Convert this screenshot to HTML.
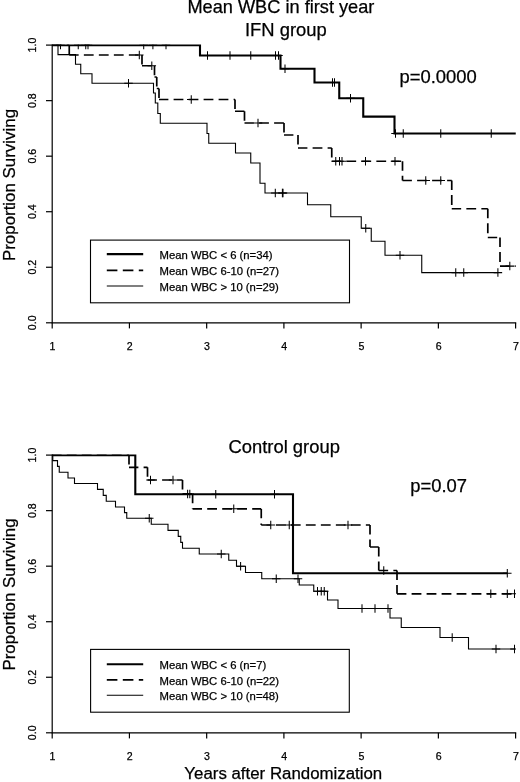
<!DOCTYPE html>
<html><head><meta charset="utf-8"><title>Survival by mean WBC</title>
<style>html,body{margin:0;padding:0;background:#fff;}body{width:520px;height:782px;overflow:hidden;font-family:"Liberation Sans", sans-serif;}</style>
</head><body>
<svg width="520" height="782" viewBox="0 0 520 782" style="display:block;filter:grayscale(1);font-family:'Liberation Sans', sans-serif" fill="#000">
<style>text{stroke:#000;stroke-width:0.25px;}</style>
<rect width="520" height="782" fill="#fff"/>
<text x="280.9" y="13.2" text-anchor="middle" font-size="18.2">Mean WBC in first year</text>
<text x="285.9" y="36.1" text-anchor="middle" font-size="18.4">IFN group</text>
<text x="284.2" y="452.8" text-anchor="middle" font-size="18.4">Control group</text>
<text transform="translate(14.6,185) rotate(-90)" text-anchor="middle" font-size="16.9">Proportion Surviving</text>
<text transform="translate(14.6,594.5) rotate(-90)" text-anchor="middle" font-size="16.9">Proportion Surviving</text>
<text x="283.3" y="779.4" text-anchor="middle" font-size="16.85">Years after Randomization</text>
<clipPath id="c0"><rect x="51.6" y="44.45" width="464.40000000000003" height="279.7"/></clipPath>
<path d="M52.2,44.5 V322.8 H516.2" fill="none" stroke="#000" stroke-width="1.2"/>
<line x1="46.0" y1="45.10" x2="52.2" y2="45.10" stroke="#000" stroke-width="1.2"/>
<text transform="translate(36.4,45.10) rotate(-90)" text-anchor="middle" font-size="10.6">1.0</text>
<line x1="46.0" y1="100.64" x2="52.2" y2="100.64" stroke="#000" stroke-width="1.2"/>
<text transform="translate(36.4,100.64) rotate(-90)" text-anchor="middle" font-size="10.6">0.8</text>
<line x1="46.0" y1="156.18" x2="52.2" y2="156.18" stroke="#000" stroke-width="1.2"/>
<text transform="translate(36.4,156.18) rotate(-90)" text-anchor="middle" font-size="10.6">0.6</text>
<line x1="46.0" y1="211.72" x2="52.2" y2="211.72" stroke="#000" stroke-width="1.2"/>
<text transform="translate(36.4,211.72) rotate(-90)" text-anchor="middle" font-size="10.6">0.4</text>
<line x1="46.0" y1="267.26" x2="52.2" y2="267.26" stroke="#000" stroke-width="1.2"/>
<text transform="translate(36.4,267.26) rotate(-90)" text-anchor="middle" font-size="10.6">0.2</text>
<line x1="46.0" y1="322.80" x2="52.2" y2="322.80" stroke="#000" stroke-width="1.2"/>
<text transform="translate(36.4,322.80) rotate(-90)" text-anchor="middle" font-size="10.6">0.0</text>
<line x1="52.20" y1="322.8" x2="52.20" y2="328.40000000000003" stroke="#000" stroke-width="1.2"/>
<text x="52.50" y="349.60" text-anchor="middle" font-size="10.6">1</text>
<line x1="129.43" y1="322.8" x2="129.43" y2="328.40000000000003" stroke="#000" stroke-width="1.2"/>
<text x="129.73" y="349.60" text-anchor="middle" font-size="10.6">2</text>
<line x1="206.67" y1="322.8" x2="206.67" y2="328.40000000000003" stroke="#000" stroke-width="1.2"/>
<text x="206.97" y="349.60" text-anchor="middle" font-size="10.6">3</text>
<line x1="283.90" y1="322.8" x2="283.90" y2="328.40000000000003" stroke="#000" stroke-width="1.2"/>
<text x="284.20" y="349.60" text-anchor="middle" font-size="10.6">4</text>
<line x1="361.13" y1="322.8" x2="361.13" y2="328.40000000000003" stroke="#000" stroke-width="1.2"/>
<text x="361.43" y="349.60" text-anchor="middle" font-size="10.6">5</text>
<line x1="438.37" y1="322.8" x2="438.37" y2="328.40000000000003" stroke="#000" stroke-width="1.2"/>
<text x="438.67" y="349.60" text-anchor="middle" font-size="10.6">6</text>
<line x1="515.60" y1="322.8" x2="515.60" y2="328.40000000000003" stroke="#000" stroke-width="1.2"/>
<text x="515.90" y="349.60" text-anchor="middle" font-size="10.6">7</text>
<g clip-path="url(#c0)">
<path d="M52.20,45.10 H58.00 V54.60 H75.50 V64.20 H80.75 V73.80 H92.00 V83.30 H153.50 V93.00 H155.30 V103.00 H157.80 V113.50 H160.30 V123.20 H207.00 V133.50 H208.75 V143.25 H235.50 V153.00 H250.75 V163.00 H260.00 V183.25 H265.00 V193.00 H307.50 V204.70 H330.75 V216.75 H361.25 V228.25 H371.25 V241.25 H385.00 V255.20 H421.75 V272.60 H498.00" fill="none" stroke="#000" stroke-width="1.1"/>
<path d="M128.50,79.05V87.55M124.25,83.30H132.75" fill="none" stroke="#000" stroke-width="1.05"/>
<path d="M275.30,188.75V197.25M271.05,193.00H279.55" fill="none" stroke="#000" stroke-width="1.05"/>
<path d="M282.40,188.75V197.25M278.15,193.00H286.65" fill="none" stroke="#000" stroke-width="1.05"/>
<path d="M283.00,188.75V197.25M278.75,193.00H287.25" fill="none" stroke="#000" stroke-width="1.05"/>
<path d="M365.75,224.00V232.50M361.50,228.25H370.00" fill="none" stroke="#000" stroke-width="1.05"/>
<path d="M400.00,250.95V259.45M395.75,255.20H404.25" fill="none" stroke="#000" stroke-width="1.05"/>
<path d="M455.75,268.35V276.85M451.50,272.60H460.00" fill="none" stroke="#000" stroke-width="1.05"/>
<path d="M463.75,268.35V276.85M459.50,272.60H468.00" fill="none" stroke="#000" stroke-width="1.05"/>
<path d="M497.90,268.35V276.85M493.65,272.60H502.15" fill="none" stroke="#000" stroke-width="1.05"/>
<line x1="52.20" y1="45.10" x2="69.25" y2="45.10" stroke="#000" stroke-width="1.7" stroke-dasharray="9.8 5.2" stroke-dashoffset="0.4"/>
<line x1="69.25" y1="45.10" x2="69.25" y2="55.00" stroke="#000" stroke-width="1.7" stroke-dasharray="9.8 5.2" stroke-dashoffset="0.4"/>
<line x1="69.25" y1="55.00" x2="142.00" y2="55.00" stroke="#000" stroke-width="1.7" stroke-dasharray="9.8 5.2" stroke-dashoffset="0.4"/>
<line x1="142.00" y1="55.00" x2="142.00" y2="65.75" stroke="#000" stroke-width="1.7" stroke-dasharray="9.8 5.2" stroke-dashoffset="0.4"/>
<line x1="142.00" y1="65.75" x2="154.50" y2="65.75" stroke="#000" stroke-width="1.7" stroke-dasharray="9.8 5.2" stroke-dashoffset="0.4"/>
<line x1="154.50" y1="65.75" x2="154.50" y2="77.00" stroke="#000" stroke-width="1.7" stroke-dasharray="9.8 5.2" stroke-dashoffset="0.4"/>
<line x1="154.50" y1="77.00" x2="156.75" y2="77.00" stroke="#000" stroke-width="1.7" stroke-dasharray="9.8 5.2" stroke-dashoffset="0.4"/>
<line x1="156.75" y1="77.00" x2="156.75" y2="88.50" stroke="#000" stroke-width="1.7" stroke-dasharray="9.8 5.2" stroke-dashoffset="0.4"/>
<line x1="156.75" y1="88.50" x2="159.00" y2="88.50" stroke="#000" stroke-width="1.7" stroke-dasharray="9.8 5.2" stroke-dashoffset="0.4"/>
<line x1="159.00" y1="88.50" x2="159.00" y2="99.50" stroke="#000" stroke-width="1.7" stroke-dasharray="9.8 5.2" stroke-dashoffset="0.4"/>
<line x1="159.00" y1="99.50" x2="235.00" y2="99.50" stroke="#000" stroke-width="1.7" stroke-dasharray="9.8 5.2" stroke-dashoffset="0.4"/>
<line x1="235.00" y1="99.50" x2="235.00" y2="111.25" stroke="#000" stroke-width="1.7" stroke-dasharray="9.8 5.2" stroke-dashoffset="0.4"/>
<line x1="235.00" y1="111.25" x2="244.50" y2="111.25" stroke="#000" stroke-width="1.7" stroke-dasharray="9.8 5.2" stroke-dashoffset="0.4"/>
<line x1="244.50" y1="111.25" x2="244.50" y2="123.00" stroke="#000" stroke-width="1.7" stroke-dasharray="9.8 5.2" stroke-dashoffset="0.4"/>
<line x1="244.50" y1="123.00" x2="284.00" y2="123.00" stroke="#000" stroke-width="1.7" stroke-dasharray="9.8 5.2" stroke-dashoffset="0.4"/>
<line x1="284.00" y1="123.00" x2="284.00" y2="135.00" stroke="#000" stroke-width="1.7" stroke-dasharray="9.8 5.2" stroke-dashoffset="0.4"/>
<line x1="284.00" y1="135.00" x2="298.00" y2="135.00" stroke="#000" stroke-width="1.7" stroke-dasharray="9.8 5.2" stroke-dashoffset="0.4"/>
<line x1="298.00" y1="135.00" x2="298.00" y2="148.00" stroke="#000" stroke-width="1.7" stroke-dasharray="9.8 5.2" stroke-dashoffset="0.4"/>
<line x1="298.00" y1="148.00" x2="331.75" y2="148.00" stroke="#000" stroke-width="1.7" stroke-dasharray="9.8 5.2" stroke-dashoffset="0.4"/>
<line x1="331.75" y1="148.00" x2="331.75" y2="161.25" stroke="#000" stroke-width="1.7" stroke-dasharray="9.8 5.2" stroke-dashoffset="0.4"/>
<line x1="331.75" y1="161.25" x2="402.50" y2="161.25" stroke="#000" stroke-width="1.7" stroke-dasharray="9.8 5.2" stroke-dashoffset="0.4"/>
<line x1="402.50" y1="161.25" x2="402.50" y2="180.50" stroke="#000" stroke-width="1.7" stroke-dasharray="9.8 5.2" stroke-dashoffset="0.4"/>
<line x1="402.50" y1="180.50" x2="451.75" y2="180.50" stroke="#000" stroke-width="1.7" stroke-dasharray="9.8 5.2" stroke-dashoffset="0.4"/>
<line x1="451.75" y1="180.50" x2="451.75" y2="208.75" stroke="#000" stroke-width="1.7" stroke-dasharray="9.8 5.2" stroke-dashoffset="0.4"/>
<line x1="451.75" y1="208.75" x2="487.80" y2="208.75" stroke="#000" stroke-width="1.7" stroke-dasharray="9.8 5.2" stroke-dashoffset="0.4"/>
<line x1="487.80" y1="208.75" x2="487.80" y2="237.50" stroke="#000" stroke-width="1.7" stroke-dasharray="9.8 5.2" stroke-dashoffset="0.4"/>
<line x1="487.80" y1="237.50" x2="500.00" y2="237.50" stroke="#000" stroke-width="1.7" stroke-dasharray="9.8 5.2" stroke-dashoffset="0.4"/>
<line x1="500.00" y1="237.50" x2="500.00" y2="266.10" stroke="#000" stroke-width="1.7" stroke-dasharray="9.8 5.2" stroke-dashoffset="0.4"/>
<line x1="500.00" y1="266.10" x2="515.70" y2="266.10" stroke="#000" stroke-width="1.7" stroke-dasharray="9.8 5.2" stroke-dashoffset="0.4"/>
<path d="M139.30,50.75V59.25M135.05,55.00H143.55" fill="none" stroke="#000" stroke-width="1.05"/>
<path d="M151.80,61.50V70.00M147.55,65.75H156.05" fill="none" stroke="#000" stroke-width="1.05"/>
<path d="M191.25,95.25V103.75M187.00,99.50H195.50" fill="none" stroke="#000" stroke-width="1.05"/>
<path d="M258.00,118.75V127.25M253.75,123.00H262.25" fill="none" stroke="#000" stroke-width="1.05"/>
<path d="M335.75,157.00V165.50M331.50,161.25H340.00" fill="none" stroke="#000" stroke-width="1.05"/>
<path d="M339.50,157.00V165.50M335.25,161.25H343.75" fill="none" stroke="#000" stroke-width="1.05"/>
<path d="M342.00,157.00V165.50M337.75,161.25H346.25" fill="none" stroke="#000" stroke-width="1.05"/>
<path d="M365.50,157.00V165.50M361.25,161.25H369.75" fill="none" stroke="#000" stroke-width="1.05"/>
<path d="M395.00,157.00V165.50M390.75,161.25H399.25" fill="none" stroke="#000" stroke-width="1.05"/>
<path d="M425.75,176.25V184.75M421.50,180.50H430.00" fill="none" stroke="#000" stroke-width="1.05"/>
<path d="M440.75,176.25V184.75M436.50,180.50H445.00" fill="none" stroke="#000" stroke-width="1.05"/>
<path d="M509.80,261.85V270.35M505.55,266.10H514.05" fill="none" stroke="#000" stroke-width="1.05"/>
<path d="M52.20,45.10 H200.00 V55.50 H280.50 V68.75 H314.50 V82.50 H339.25 V98.25 H363.25 V116.60 H394.50 V133.50 H515.75" fill="none" stroke="#000" stroke-width="2.1"/>
<path d="M60.50,40.85V49.35M56.25,45.10H64.75" fill="none" stroke="#000" stroke-width="1.05"/>
<path d="M78.25,40.85V49.35M74.00,45.10H82.50" fill="none" stroke="#000" stroke-width="1.05"/>
<path d="M85.75,40.85V49.35M81.50,45.10H90.00" fill="none" stroke="#000" stroke-width="1.05"/>
<path d="M88.00,40.85V49.35M83.75,45.10H92.25" fill="none" stroke="#000" stroke-width="1.05"/>
<path d="M143.70,40.85V49.35M139.45,45.10H147.95" fill="none" stroke="#000" stroke-width="1.05"/>
<path d="M152.90,40.85V49.35M148.65,45.10H157.15" fill="none" stroke="#000" stroke-width="1.05"/>
<path d="M166.00,40.85V49.35M161.75,45.10H170.25" fill="none" stroke="#000" stroke-width="1.05"/>
<path d="M207.50,51.25V59.75M203.25,55.50H211.75" fill="none" stroke="#000" stroke-width="1.05"/>
<path d="M230.00,51.25V59.75M225.75,55.50H234.25" fill="none" stroke="#000" stroke-width="1.05"/>
<path d="M250.75,51.25V59.75M246.50,55.50H255.00" fill="none" stroke="#000" stroke-width="1.05"/>
<path d="M275.50,51.25V59.75M271.25,55.50H279.75" fill="none" stroke="#000" stroke-width="1.05"/>
<path d="M278.50,51.25V59.75M274.25,55.50H282.75" fill="none" stroke="#000" stroke-width="1.05"/>
<path d="M285.00,64.50V73.00M280.75,68.75H289.25" fill="none" stroke="#000" stroke-width="1.05"/>
<path d="M332.50,78.25V86.75M328.25,82.50H336.75" fill="none" stroke="#000" stroke-width="1.05"/>
<path d="M334.50,78.25V86.75M330.25,82.50H338.75" fill="none" stroke="#000" stroke-width="1.05"/>
<path d="M350.50,94.00V102.50M346.25,98.25H354.75" fill="none" stroke="#000" stroke-width="1.05"/>
<path d="M395.50,129.25V137.75M391.25,133.50H399.75" fill="none" stroke="#000" stroke-width="1.05"/>
<path d="M403.25,129.25V137.75M399.00,133.50H407.50" fill="none" stroke="#000" stroke-width="1.05"/>
<path d="M440.75,129.25V137.75M436.50,133.50H445.00" fill="none" stroke="#000" stroke-width="1.05"/>
<path d="M491.25,129.25V137.75M487.00,133.50H495.50" fill="none" stroke="#000" stroke-width="1.05"/>
</g>
<rect x="90.5" y="240.1" width="259.0" height="62.70000000000002" fill="#fff" stroke="#000" stroke-width="1.1"/>
<line x1="106.8" y1="254.1" x2="143.2" y2="254.1" stroke="#000" stroke-width="2.1"/>
<text x="159.5" y="258.80" font-size="11.3">Mean WBC &lt; 6 (n=34)</text>
<line x1="106.8" y1="270.3" x2="143.2" y2="270.3" stroke="#000" stroke-width="1.7" stroke-dasharray="10.6 5.4"/>
<text x="159.5" y="275.00" font-size="11.3">Mean WBC 6-10 (n=27)</text>
<line x1="106.8" y1="286.0" x2="143.2" y2="286.0" stroke="#000" stroke-width="1.1"/>
<text x="159.5" y="290.70" font-size="11.3">Mean WBC &gt; 10 (n=29)</text>
<text x="399.5" y="82.6" font-size="18.4">p=0.0000</text>
<clipPath id="c1"><rect x="51.6" y="454.45000000000005" width="464.40000000000003" height="279.69999999999993"/></clipPath>
<path d="M52.2,454.5 V732.8 H516.2" fill="none" stroke="#000" stroke-width="1.2"/>
<line x1="46.0" y1="455.10" x2="52.2" y2="455.10" stroke="#000" stroke-width="1.2"/>
<text transform="translate(36.4,455.10) rotate(-90)" text-anchor="middle" font-size="10.6">1.0</text>
<line x1="46.0" y1="510.64" x2="52.2" y2="510.64" stroke="#000" stroke-width="1.2"/>
<text transform="translate(36.4,510.64) rotate(-90)" text-anchor="middle" font-size="10.6">0.8</text>
<line x1="46.0" y1="566.18" x2="52.2" y2="566.18" stroke="#000" stroke-width="1.2"/>
<text transform="translate(36.4,566.18) rotate(-90)" text-anchor="middle" font-size="10.6">0.6</text>
<line x1="46.0" y1="621.72" x2="52.2" y2="621.72" stroke="#000" stroke-width="1.2"/>
<text transform="translate(36.4,621.72) rotate(-90)" text-anchor="middle" font-size="10.6">0.4</text>
<line x1="46.0" y1="677.26" x2="52.2" y2="677.26" stroke="#000" stroke-width="1.2"/>
<text transform="translate(36.4,677.26) rotate(-90)" text-anchor="middle" font-size="10.6">0.2</text>
<line x1="46.0" y1="732.80" x2="52.2" y2="732.80" stroke="#000" stroke-width="1.2"/>
<text transform="translate(36.4,732.80) rotate(-90)" text-anchor="middle" font-size="10.6">0.0</text>
<line x1="52.20" y1="732.8" x2="52.20" y2="738.4" stroke="#000" stroke-width="1.2"/>
<text x="52.50" y="759.60" text-anchor="middle" font-size="10.6">1</text>
<line x1="129.43" y1="732.8" x2="129.43" y2="738.4" stroke="#000" stroke-width="1.2"/>
<text x="129.73" y="759.60" text-anchor="middle" font-size="10.6">2</text>
<line x1="206.67" y1="732.8" x2="206.67" y2="738.4" stroke="#000" stroke-width="1.2"/>
<text x="206.97" y="759.60" text-anchor="middle" font-size="10.6">3</text>
<line x1="283.90" y1="732.8" x2="283.90" y2="738.4" stroke="#000" stroke-width="1.2"/>
<text x="284.20" y="759.60" text-anchor="middle" font-size="10.6">4</text>
<line x1="361.13" y1="732.8" x2="361.13" y2="738.4" stroke="#000" stroke-width="1.2"/>
<text x="361.43" y="759.60" text-anchor="middle" font-size="10.6">5</text>
<line x1="438.37" y1="732.8" x2="438.37" y2="738.4" stroke="#000" stroke-width="1.2"/>
<text x="438.67" y="759.60" text-anchor="middle" font-size="10.6">6</text>
<line x1="515.60" y1="732.8" x2="515.60" y2="738.4" stroke="#000" stroke-width="1.2"/>
<text x="515.90" y="759.60" text-anchor="middle" font-size="10.6">7</text>
<g clip-path="url(#c1)">
<path d="M52.20,455.10 H52.80 V460.60 H57.50 V466.40 H59.25 V472.20 H68.00 V478.00 H74.50 V483.50 H97.50 V489.40 H103.25 V495.40 H106.25 V501.20 H115.50 V507.00 H124.50 V512.60 H126.75 V518.20 H151.25 V524.20 H168.00 V530.40 H178.25 V536.40 H180.75 V542.40 H182.50 V548.20 H199.25 V554.00 H228.75 V560.30 H236.50 V566.30 H245.50 V572.50 H261.75 V578.75 H299.25 V585.00 H313.75 V591.25 H327.50 V600.00 H338.00 V608.50 H390.00 V618.00 H401.25 V627.50 H440.00 V637.50 H468.50 V649.00 H514.50" fill="none" stroke="#000" stroke-width="1.1"/>
<path d="M149.25,513.95V522.45M145.00,518.20H153.50" fill="none" stroke="#000" stroke-width="1.05"/>
<path d="M221.25,549.75V558.25M217.00,554.00H225.50" fill="none" stroke="#000" stroke-width="1.05"/>
<path d="M240.60,562.05V570.55M236.35,566.30H244.85" fill="none" stroke="#000" stroke-width="1.05"/>
<path d="M276.25,574.50V583.00M272.00,578.75H280.50" fill="none" stroke="#000" stroke-width="1.05"/>
<path d="M298.00,574.50V583.00M293.75,578.75H302.25" fill="none" stroke="#000" stroke-width="1.05"/>
<path d="M317.50,587.00V595.50M313.25,591.25H321.75" fill="none" stroke="#000" stroke-width="1.05"/>
<path d="M321.25,587.00V595.50M317.00,591.25H325.50" fill="none" stroke="#000" stroke-width="1.05"/>
<path d="M324.25,587.00V595.50M320.00,591.25H328.50" fill="none" stroke="#000" stroke-width="1.05"/>
<path d="M362.00,604.25V612.75M357.75,608.50H366.25" fill="none" stroke="#000" stroke-width="1.05"/>
<path d="M375.00,604.25V612.75M370.75,608.50H379.25" fill="none" stroke="#000" stroke-width="1.05"/>
<path d="M388.00,604.25V612.75M383.75,608.50H392.25" fill="none" stroke="#000" stroke-width="1.05"/>
<path d="M452.20,633.25V641.75M447.95,637.50H456.45" fill="none" stroke="#000" stroke-width="1.05"/>
<path d="M496.00,644.75V653.25M491.75,649.00H500.25" fill="none" stroke="#000" stroke-width="1.05"/>
<path d="M514.50,644.75V653.25M510.25,649.00H518.75" fill="none" stroke="#000" stroke-width="1.05"/>
<line x1="52.20" y1="455.10" x2="129.00" y2="455.10" stroke="#000" stroke-width="1.7" stroke-dasharray="9.8 5.2" stroke-dashoffset="0.4"/>
<line x1="129.00" y1="455.10" x2="129.00" y2="467.30" stroke="#000" stroke-width="1.7" stroke-dasharray="9.8 5.2" stroke-dashoffset="0.4"/>
<line x1="129.00" y1="467.30" x2="147.50" y2="467.30" stroke="#000" stroke-width="1.7" stroke-dasharray="9.8 5.2" stroke-dashoffset="0.4"/>
<line x1="147.50" y1="467.30" x2="147.50" y2="480.00" stroke="#000" stroke-width="1.7" stroke-dasharray="9.8 5.2" stroke-dashoffset="0.4"/>
<line x1="147.50" y1="480.00" x2="182.50" y2="480.00" stroke="#000" stroke-width="1.7" stroke-dasharray="9.8 5.2" stroke-dashoffset="0.4"/>
<line x1="182.50" y1="480.00" x2="182.50" y2="493.90" stroke="#000" stroke-width="1.7" stroke-dasharray="9.8 5.2" stroke-dashoffset="0.4"/>
<line x1="182.50" y1="493.90" x2="192.60" y2="493.90" stroke="#000" stroke-width="1.7" stroke-dasharray="9.8 5.2" stroke-dashoffset="0.4"/>
<line x1="192.60" y1="493.90" x2="192.60" y2="508.90" stroke="#000" stroke-width="1.7" stroke-dasharray="9.8 5.2" stroke-dashoffset="0.4"/>
<line x1="192.60" y1="508.90" x2="261.25" y2="508.90" stroke="#000" stroke-width="1.7" stroke-dasharray="9.8 5.2" stroke-dashoffset="0.4"/>
<line x1="261.25" y1="508.90" x2="261.25" y2="525.00" stroke="#000" stroke-width="1.7" stroke-dasharray="9.8 5.2" stroke-dashoffset="0.4"/>
<line x1="261.25" y1="525.00" x2="370.00" y2="525.00" stroke="#000" stroke-width="1.7" stroke-dasharray="9.8 5.2" stroke-dashoffset="0.4"/>
<line x1="370.00" y1="525.00" x2="370.00" y2="547.00" stroke="#000" stroke-width="1.7" stroke-dasharray="9.8 5.2" stroke-dashoffset="0.4"/>
<line x1="370.00" y1="547.00" x2="378.75" y2="547.00" stroke="#000" stroke-width="1.7" stroke-dasharray="9.8 5.2" stroke-dashoffset="0.4"/>
<line x1="378.75" y1="547.00" x2="378.75" y2="570.50" stroke="#000" stroke-width="1.7" stroke-dasharray="9.8 5.2" stroke-dashoffset="0.4"/>
<line x1="378.75" y1="570.50" x2="397.00" y2="570.50" stroke="#000" stroke-width="1.7" stroke-dasharray="9.8 5.2" stroke-dashoffset="0.4"/>
<line x1="397.00" y1="570.50" x2="397.00" y2="593.80" stroke="#000" stroke-width="1.7" stroke-dasharray="9.8 5.2" stroke-dashoffset="0.4"/>
<line x1="397.00" y1="593.80" x2="514.50" y2="593.80" stroke="#000" stroke-width="1.7" stroke-dasharray="9.8 5.2" stroke-dashoffset="0.4"/>
<path d="M150.50,475.75V484.25M146.25,480.00H154.75" fill="none" stroke="#000" stroke-width="1.05"/>
<path d="M173.00,475.75V484.25M168.75,480.00H177.25" fill="none" stroke="#000" stroke-width="1.05"/>
<path d="M187.60,489.65V498.15M183.35,493.90H191.85" fill="none" stroke="#000" stroke-width="1.05"/>
<path d="M189.80,489.65V498.15M185.55,493.90H194.05" fill="none" stroke="#000" stroke-width="1.05"/>
<path d="M233.75,504.55V513.05M229.50,508.80H238.00" fill="none" stroke="#000" stroke-width="1.05"/>
<path d="M270.75,520.75V529.25M266.50,525.00H275.00" fill="none" stroke="#000" stroke-width="1.05"/>
<path d="M289.25,520.75V529.25M285.00,525.00H293.50" fill="none" stroke="#000" stroke-width="1.05"/>
<path d="M348.00,520.75V529.25M343.75,525.00H352.25" fill="none" stroke="#000" stroke-width="1.05"/>
<path d="M383.75,566.25V574.75M379.50,570.50H388.00" fill="none" stroke="#000" stroke-width="1.05"/>
<path d="M490.80,589.55V598.05M486.55,593.80H495.05" fill="none" stroke="#000" stroke-width="1.05"/>
<path d="M507.30,589.55V598.05M503.05,593.80H511.55" fill="none" stroke="#000" stroke-width="1.05"/>
<path d="M514.50,589.55V598.05M510.25,593.80H518.75" fill="none" stroke="#000" stroke-width="1.05"/>
<path d="M52.20,455.10 H135.30 V494.30 H293.00 V573.20 H507.30" fill="none" stroke="#000" stroke-width="2.1"/>
<path d="M215.75,490.05V498.55M211.50,494.30H220.00" fill="none" stroke="#000" stroke-width="1.05"/>
<path d="M274.50,490.05V498.55M270.25,494.30H278.75" fill="none" stroke="#000" stroke-width="1.05"/>
<path d="M507.30,568.95V577.45M503.05,573.20H511.55" fill="none" stroke="#000" stroke-width="1.05"/>
</g>
<rect x="90.6" y="649.4" width="258.70000000000005" height="62.80000000000007" fill="#fff" stroke="#000" stroke-width="1.1"/>
<line x1="106.8" y1="664.3" x2="143.2" y2="664.3" stroke="#000" stroke-width="2.1"/>
<text x="159.5" y="669.00" font-size="11.3">Mean WBC &lt; 6 (n=7)</text>
<line x1="106.8" y1="679.8" x2="143.2" y2="679.8" stroke="#000" stroke-width="1.7" stroke-dasharray="10.6 5.4"/>
<text x="159.5" y="684.50" font-size="11.3">Mean WBC 6-10 (n=22)</text>
<line x1="106.8" y1="695.2" x2="143.2" y2="695.2" stroke="#000" stroke-width="1.1"/>
<text x="159.5" y="699.90" font-size="11.3">Mean WBC &gt; 10 (n=48)</text>
<text x="410.3" y="491.9" font-size="18.4">p=0.07</text>
</svg>
</body></html>
